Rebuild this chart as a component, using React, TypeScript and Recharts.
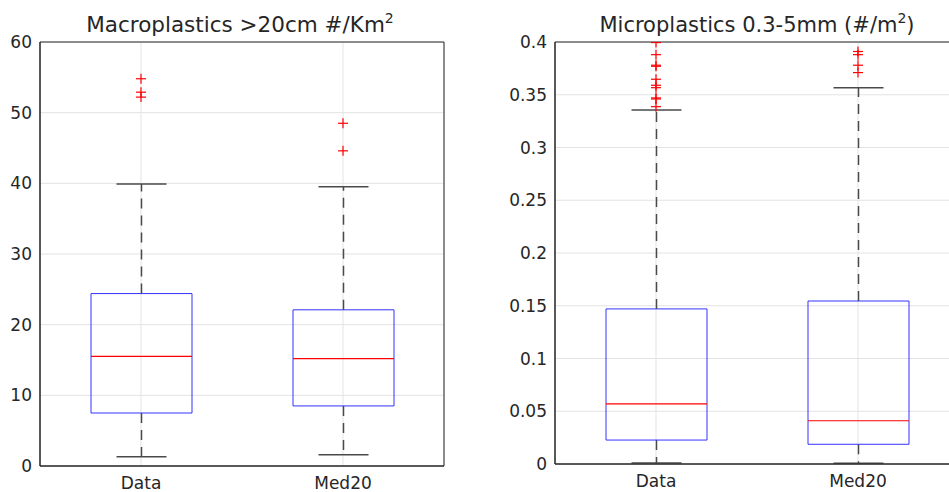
import { ComposedChart, Bar, Scatter, XAxis, YAxis, CartesianGrid, ReferenceArea } from 'recharts';

const groups = ['Data', 'Med20'];
const groupX = [1, 2];

// Macroplastics >20cm #/Km2
const macroWhiskerLow = [1.3, 1.6];
const macroQ1 = [7.5, 8.5];
const macroMedian = [15.5, 15.2];
const macroQ3 = [24.4, 22.1];
const macroWhiskerHigh = [39.9, 39.5];
const macroOutliers = [
  [54.8, 52.9, 52.2],
  [48.5, 44.6],
];
const macroTicks = [0, 10, 20, 30, 40, 50, 60];

// Microplastics 0.3-5mm (#/m2)
const microWhiskerLow = [0.001, 0.0008];
const microQ1 = [0.0227, 0.0187];
const microMedian = [0.057, 0.041];
const microQ3 = [0.147, 0.1545];
const microWhiskerHigh = [0.3355, 0.3567];
const microOutliers = [
  [0.3995, 0.388, 0.378, 0.377, 0.3647, 0.359, 0.3567, 0.347, 0.346, 0.3387],
  [0.391, 0.388, 0.378, 0.371],
];
const microTicks = [0, 0.05, 0.1, 0.15, 0.2, 0.25, 0.3, 0.35, 0.4];

const FONT = 'DejaVu Sans, sans-serif';
const AXIS = '#262626';
const GRID = '#e3e3e3';
const BOX = '#3333ff';
const MED = '#ff0000';
const WHISK = '#4a4a4a';
const CAP = 25;

function buildBoxes(lo: number[], q1: number[], med: number[], q3: number[], hi: number[]) {
  return groupX.map((x, i) => ({
    x,
    base: lo[i],
    lowW: q1[i] - lo[i],
    boxLo: med[i] - q1[i],
    boxHi: q3[i] - med[i],
    highW: hi[i] - q3[i],
  }));
}

function buildOutliers(out: number[][]) {
  const pts: { x: number; y: number }[] = [];
  out.forEach((vals, i) => vals.forEach(v => pts.push({ x: groupX[i], y: v })));
  return pts;
}

const Empty = () => <g />;

const LowWhisker = (p: any) => {
  const cx = p.x + p.width / 2;
  const bottom = p.y + p.height;
  return (
    <g>
      <line x1={cx} x2={cx} y1={p.y} y2={bottom} stroke={WHISK} strokeWidth={1.5} strokeDasharray="10 7" />
      <line x1={cx - CAP} x2={cx + CAP} y1={bottom} y2={bottom} stroke={WHISK} strokeWidth={1.5} />
    </g>
  );
};

const HighWhisker = (p: any) => {
  const cx = p.x + p.width / 2;
  const bottom = p.y + p.height;
  return (
    <g>
      <line x1={cx} x2={cx} y1={bottom} y2={p.y} stroke={WHISK} strokeWidth={1.5} strokeDasharray="10 7" />
      <line x1={cx - CAP} x2={cx + CAP} y1={p.y} y2={p.y} stroke={WHISK} strokeWidth={1.5} />
    </g>
  );
};

// lower half of the box: sides and bottom edge
const BoxLow = (p: any) => {
  const b = p.y + p.height;
  return (
    <path
      d={`M${p.x},${p.y} L${p.x},${b} L${p.x + p.width},${b} L${p.x + p.width},${p.y}`}
      fill="none"
      stroke={BOX}
      strokeWidth={1}
    />
  );
};

// upper half of the box: sides and top edge, plus the median line
const BoxHigh = (p: any) => {
  const b = p.y + p.height;
  return (
    <g>
      <path
        d={`M${p.x},${b} L${p.x},${p.y} L${p.x + p.width},${p.y} L${p.x + p.width},${b}`}
        fill="none"
        stroke={BOX}
        strokeWidth={1}
      />
      <line x1={p.x} x2={p.x + p.width} y1={b} y2={b} stroke={MED} strokeWidth={1.2} />
    </g>
  );
};

const Plus = (p: any) => (
  <g>
    <line x1={p.cx - 5} x2={p.cx + 5} y1={p.cy} y2={p.cy} stroke={MED} strokeWidth={1.2} />
    <line x1={p.cx} x2={p.cx} y1={p.cy - 5} y2={p.cy + 5} stroke={MED} strokeWidth={1.2} />
  </g>
);

function BoxPanel({ width, height, yAxisWidth, marginRight, xAxisHeight, boxes, outliers, ticks, yMax, fmt }: any) {
  return (
    <ComposedChart
      width={width}
      height={height}
      data={boxes}
      margin={{ top: 42, right: marginRight, left: 0, bottom: 0 }}
      barGap={0}
    >
      <CartesianGrid stroke={GRID} />
      <ReferenceArea x1={0.5} x2={2.5} y1={0} y2={yMax} fill="none" stroke={AXIS} strokeWidth={1} />
      <XAxis
        type="number"
        dataKey="x"
        domain={[0.5, 2.5]}
        ticks={groupX}
        allowDataOverflow
        tickFormatter={(v: number) => groups[groupX.indexOf(v)] ?? ''}
        height={xAxisHeight}
        tickLine={false}
        tickMargin={5}
        axisLine={{ stroke: AXIS }}
        tick={{ fill: AXIS, fontSize: 17, fontFamily: FONT }}
      />
      <YAxis
        type="number"
        dataKey="y"
        domain={[0, yMax]}
        ticks={ticks}
        allowDataOverflow
        width={yAxisWidth}
        tickLine={false}
        tickFormatter={fmt}
        axisLine={{ stroke: AXIS }}
        tick={{ fill: AXIS, fontSize: 17, fontFamily: FONT }}
      />
      <Bar dataKey="base" stackId="b" barSize={101} shape={Empty} isAnimationActive={false} />
      <Bar dataKey="lowW" stackId="b" barSize={101} shape={LowWhisker} isAnimationActive={false} />
      <Bar dataKey="boxLo" stackId="b" barSize={101} shape={BoxLow} isAnimationActive={false} />
      <Bar dataKey="boxHi" stackId="b" barSize={101} shape={BoxHigh} isAnimationActive={false} />
      <Bar dataKey="highW" stackId="b" barSize={101} shape={HighWhisker} isAnimationActive={false} />
      <Scatter data={outliers} dataKey="y" shape={Plus} isAnimationActive={false} />
    </ComposedChart>
  );
}

export default function App() {
  const macroBoxes = buildBoxes(macroWhiskerLow, macroQ1, macroMedian, macroQ3, macroWhiskerHigh);
  const microBoxes = buildBoxes(microWhiskerLow, microQ1, microMedian, microQ3, microWhiskerHigh);

  return (
    <div style={{ position: 'fixed', left: 0, top: 0, width: 949, height: 492, overflow: 'hidden', background: '#fff', fontFamily: FONT }}>
      <div style={{ position: 'absolute', left: 0, top: 0 }}>
        <BoxPanel
          width={470}
          height={492}
          yAxisWidth={40}
          marginRight={26}
          xAxisHeight={26}
          boxes={macroBoxes}
          outliers={buildOutliers(macroOutliers)}
          ticks={macroTicks}
          yMax={60}
          fmt={(v: number) => String(v)}
        />
      </div>
      <div style={{ position: 'absolute', left: 475, top: 0 }}>
        <BoxPanel
          width={500}
          height={492}
          yAxisWidth={80}
          marginRight={16}
          xAxisHeight={28}
          boxes={microBoxes}
          outliers={buildOutliers(microOutliers)}
          ticks={microTicks}
          yMax={0.4}
          fmt={(v: number) => String(+v.toFixed(2))}
        />
      </div>
      <svg width={949} height={492} style={{ position: 'absolute', left: 0, top: 0, pointerEvents: 'none' }}>
        <text x={240} y={32} textAnchor="middle" fontSize={21.5} fill={AXIS} fontFamily={FONT}>
          Macroplastics &gt;20cm #/Km<tspan dy={-9} fontSize={14}>2</tspan>
        </text>
        <text x={757} y={32} textAnchor="middle" fontSize={21} fill={AXIS} fontFamily={FONT}>
          Microplastics 0.3-5mm (#/m<tspan dy={-9} fontSize={14}>2</tspan><tspan dy={9}>)</tspan>
        </text>
      </svg>
    </div>
  );
}
